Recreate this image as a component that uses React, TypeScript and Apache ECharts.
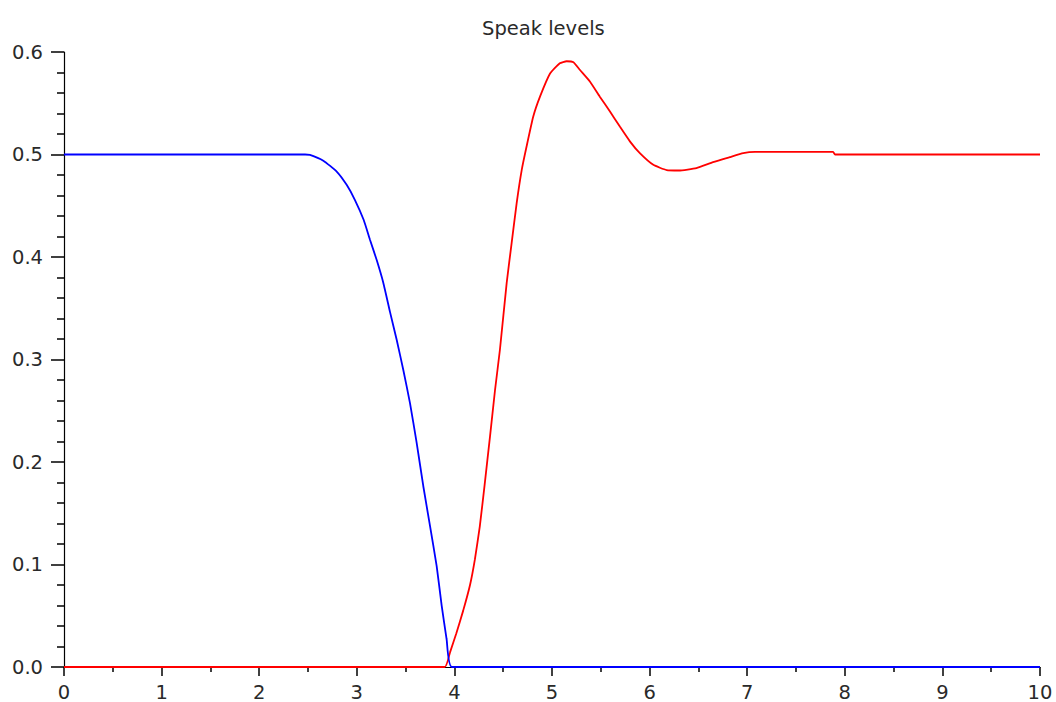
import React, { useEffect, useRef } from "react";
import * as echarts from "echarts";

const titleText = "Speak levels";

const blueX = [0, 2.47, 2.52, 2.657, 2.794, 2.896, 2.98, 3.07, 3.135, 3.204, 3.272, 3.34, 3.408, 3.476, 3.545, 3.613, 3.681, 3.75, 3.818, 3.87, 3.92, 3.975, 10];
const blueY = [0.5, 0.5, 0.4997, 0.494, 0.4834, 0.4704, 0.4558, 0.4363, 0.4169, 0.397, 0.3747, 0.3465, 0.3195, 0.29, 0.2575, 0.219, 0.1766, 0.1376, 0.0987, 0.0597, 0.0273, 0, 0];

const redX = [0, 3.9, 3.955, 4.02, 4.09, 4.16, 4.21, 4.26, 4.31, 4.365, 4.416, 4.467, 4.536, 4.587, 4.638, 4.69, 4.74, 4.808, 4.877, 4.98, 5.08, 5.15, 5.22, 5.287, 5.39, 5.49, 5.594, 5.697, 5.8, 5.9, 6.038, 6.175, 6.3, 6.48, 6.65, 6.82, 6.96, 7.08, 7.88, 7.9, 10];
const redY = [0, 0, 0.0143, 0.033, 0.055, 0.08, 0.105, 0.137, 0.178, 0.225, 0.27, 0.31, 0.375, 0.414, 0.4526, 0.485, 0.508, 0.537, 0.5564, 0.579, 0.589, 0.591, 0.59, 0.5824, 0.571, 0.5564, 0.542, 0.527, 0.5126, 0.5013, 0.4899, 0.4848, 0.4844, 0.4867, 0.4925, 0.4974, 0.5013, 0.5025, 0.5025, 0.5, 0.5];

const xTicks = [0, 1, 2, 3, 4, 5, 6, 7, 8, 9, 10];
const yTicks = [0, 0.1, 0.2, 0.3, 0.4, 0.5, 0.6];

const FONT = "DejaVu Sans";

export default function App() {
  const ref = useRef<HTMLDivElement>(null);
  useEffect(() => {
    if (!ref.current) return;
    const chart = echarts.init(ref.current, null, { renderer: "svg" });
    const pair = (xs: number[], ys: number[]) => xs.map((x, i) => [x, ys[i]]);
    chart.setOption({
      animation: false,
      backgroundColor: "#ffffff",
      title: {
        text: titleText,
        left: 477,
        top: 13,
        textStyle: { fontFamily: FONT, fontSize: 19.5, fontWeight: "normal", color: "#2a2a2a" },
      },
      grid: { left: 64, right: 16, top: 52, bottom: 34, containLabel: false },
      xAxis: {
        type: "value",
        min: xTicks[0],
        max: xTicks[xTicks.length - 1],
        interval: 1,
        splitLine: { show: false },
        axisLine: { show: true, onZero: false, lineStyle: { color: "#000", width: 1.2 } },
        axisTick: { show: true, length: 9, lineStyle: { color: "#000", width: 1.5 } },
        minorTick: { show: true, splitNumber: 2, length: 5, lineStyle: { color: "#000", width: 1.5 } },
        axisLabel: { margin: 15, fontFamily: FONT, fontSize: 19.5, color: "#2a2a2a" },
      },
      yAxis: {
        type: "value",
        min: yTicks[0],
        max: yTicks[yTicks.length - 1],
        interval: 0.1,
        splitLine: { show: false },
        axisLine: { show: true, onZero: false, lineStyle: { color: "#000", width: 1.2 } },
        axisTick: { show: true, length: 13, lineStyle: { color: "#000", width: 1.5 } },
        minorTick: { show: true, splitNumber: 5, length: 7, lineStyle: { color: "#000", width: 1.5 } },
        axisLabel: {
          margin: 21,
          fontFamily: FONT,
          fontSize: 19.5,
          color: "#2a2a2a",
          formatter: (v: number) => v.toFixed(1),
        },
      },
      series: [
        {
          type: "line",
          data: pair(blueX, blueY),
          showSymbol: false,
          smooth: 0.15,
          lineStyle: { color: "#0000ff", width: 1.8 },
          itemStyle: { color: "#0000ff" },
          z: 3,
        },
        {
          type: "line",
          data: pair(redX, redY),
          showSymbol: false,
          smooth: 0.15,
          lineStyle: { color: "#ff0000", width: 1.8 },
          itemStyle: { color: "#ff0000" },
          z: 2,
        },
      ],
    });
    return () => chart.dispose();
  }, []);
  return (
    <div
      ref={ref}
      style={{ position: "absolute", left: 0, top: 0, width: 1056, height: 702, background: "#fff" }}
    />
  );
}
